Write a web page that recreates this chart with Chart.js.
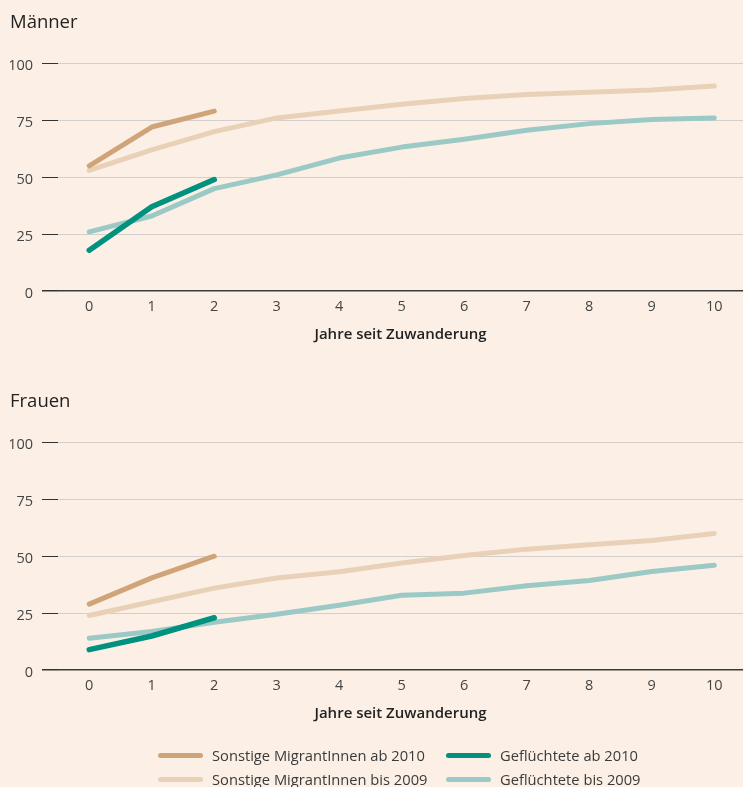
<!DOCTYPE html>
<html><head><meta charset="utf-8">
<script src="https://cdn.jsdelivr.net/npm/chart.js@4.4.0/dist/chart.umd.min.js"></script>
<style>
html,body{margin:0;padding:0;background:#fcf0e6;width:743px;height:787px;overflow:hidden;font-family:"Open Sans",sans-serif;}
.wrap{position:absolute;left:0;width:743px;height:355px;}
#legend{position:absolute;left:0;top:0;width:743px;height:787px;pointer-events:none;}
.item{position:absolute;display:flex;align-items:center;height:20px;font-size:14.7px;color:#3a3a3a;white-space:nowrap;}
.sw{width:45px;height:5px;border-radius:3px;margin-right:9px;}
</style></head><body>
<div class="wrap" style="top:0"><canvas id="c1" width="743" height="355"></canvas></div>
<div class="wrap" style="top:379px"><canvas id="c2" width="743" height="355"></canvas></div>
<div id="legend"></div>
<script>
// ---- data ----
const years = [0,1,2,3,4,5,6,7,8,9,10];
const yTicks = [0,25,50,75,100];
const seriesNames = ['Sonstige MigrantInnen ab 2010','Geflüchtete ab 2010','Sonstige MigrantInnen bis 2009','Geflüchtete bis 2009'];
const panelTitles = ['Männer','Frauen'];
const xTitle = 'Jahre seit Zuwanderung';

const maennerSonstigeAb2010 = [55,72,79];
const maennerGefluechteteAb2010 = [18,37,49];
const maennerSonstigeBis2009 = [53,62,70,76,79,82,84.5,86.3,87.3,88.2,90];
const maennerGefluechteteBis2009 = [26,33,45,51,58.4,63.2,66.6,70.6,73.5,75.3,76];

const frauenSonstigeAb2010 = [29,40.5,50];
const frauenGefluechteteAb2010 = [9,15,23];
const frauenSonstigeBis2009 = [24,30,36,40.4,43.2,47,50.3,53.1,55,56.9,60];
const frauenGefluechteteBis2009 = [14,17,21,24.5,28.5,32.9,33.8,37,39.3,43.3,46];

// ---- styles ----
const colors = ['#cfa478','#00917f','#e8d1b7','#9bc9c6'];

Chart.defaults.font.family = '"Open Sans", sans-serif';

function pts(arr){ return arr.map((v,i)=>({x:years[i], y:v})); }

function makeChart(id, title, series){
  const order = [0,0,1,1];
  const datasets = series.map((s,i)=>({
    label: seriesNames[i],
    data: pts(s),
    borderColor: colors[i],
    backgroundColor: colors[i],
    borderWidth: i===1 ? 5.5 : 5,
    borderCapStyle: 'round',
    borderJoinStyle: 'round',
    pointRadius: 0,
    tension: 0,
    fill: false,
    order: order[i]
  }));
  return new Chart(document.getElementById(id), {
    type: 'line',
    data: { datasets },
    options: {
      responsive: false,
      animation: false,
      layout: { padding: { left: 10, right: 0, top: 0, bottom: 11.4 } },
      plugins: {
        legend: { display: false },
        tooltip: { enabled: false },
        title: {
          display: true, text: title, align: 'start', color: '#222',
          font: { size: 18.5, weight: 'normal' },
          padding: { top: 12, bottom: 29 }
        }
      },
      scales: {
        x: {
          type: 'linear', min: -0.5, max: 10.46,
          afterBuildTicks: s => { s.ticks = years.map(v => ({ value: v })); },
          grid: { display: false, drawTicks: false },
          border: { display: false },
          ticks: { padding: 7, color: '#444', font: { size: 14.5 } },
          title: { display: true, text: xTitle, color: '#222', font: { size: 15, weight: '600' }, padding: { top: 3, bottom: 0 } }
        },
        y: {
          min: 0, max: 100,
          afterBuildTicks: s => { s.ticks = yTicks.map(v => ({ value: v })); },
          afterFit: s => { s.width = 48; },
          border: { display: false },
          grid: {
            color: c => (c.tick && c.tick.value === 0) ? '#3a3a3a' : '#d3cfcc',
            lineWidth: c => (c.tick && c.tick.value === 0) ? 1.5 : 1,
            tickColor: '#333', tickLength: 16, drawTicks: true
          },
          ticks: { padding: 9, labelOffset: 3, color: '#444', font: { size: 14.5 } }
        }
      }
    }
  });
}

makeChart('c1', panelTitles[0], [maennerSonstigeAb2010, maennerGefluechteteAb2010, maennerSonstigeBis2009, maennerGefluechteteBis2009]);
makeChart('c2', panelTitles[1], [frauenSonstigeAb2010, frauenGefluechteteAb2010, frauenSonstigeBis2009, frauenGefluechteteBis2009]);

// legend (built from the series names / colours)
const legendPos = [[158,745],[446,745],[158,769],[446,769]];
const lg = document.getElementById('legend');
seriesNames.forEach((n,i)=>{
  const d = document.createElement('div');
  d.className = 'item';
  d.style.left = legendPos[i][0] + 'px';
  d.style.top = legendPos[i][1] + 'px';
  const sw = document.createElement('span');
  sw.className = 'sw';
  sw.style.background = colors[i];
  const t = document.createElement('span');
  t.textContent = n;
  d.appendChild(sw); d.appendChild(t);
  lg.appendChild(d);
});
</script>
</body></html>
